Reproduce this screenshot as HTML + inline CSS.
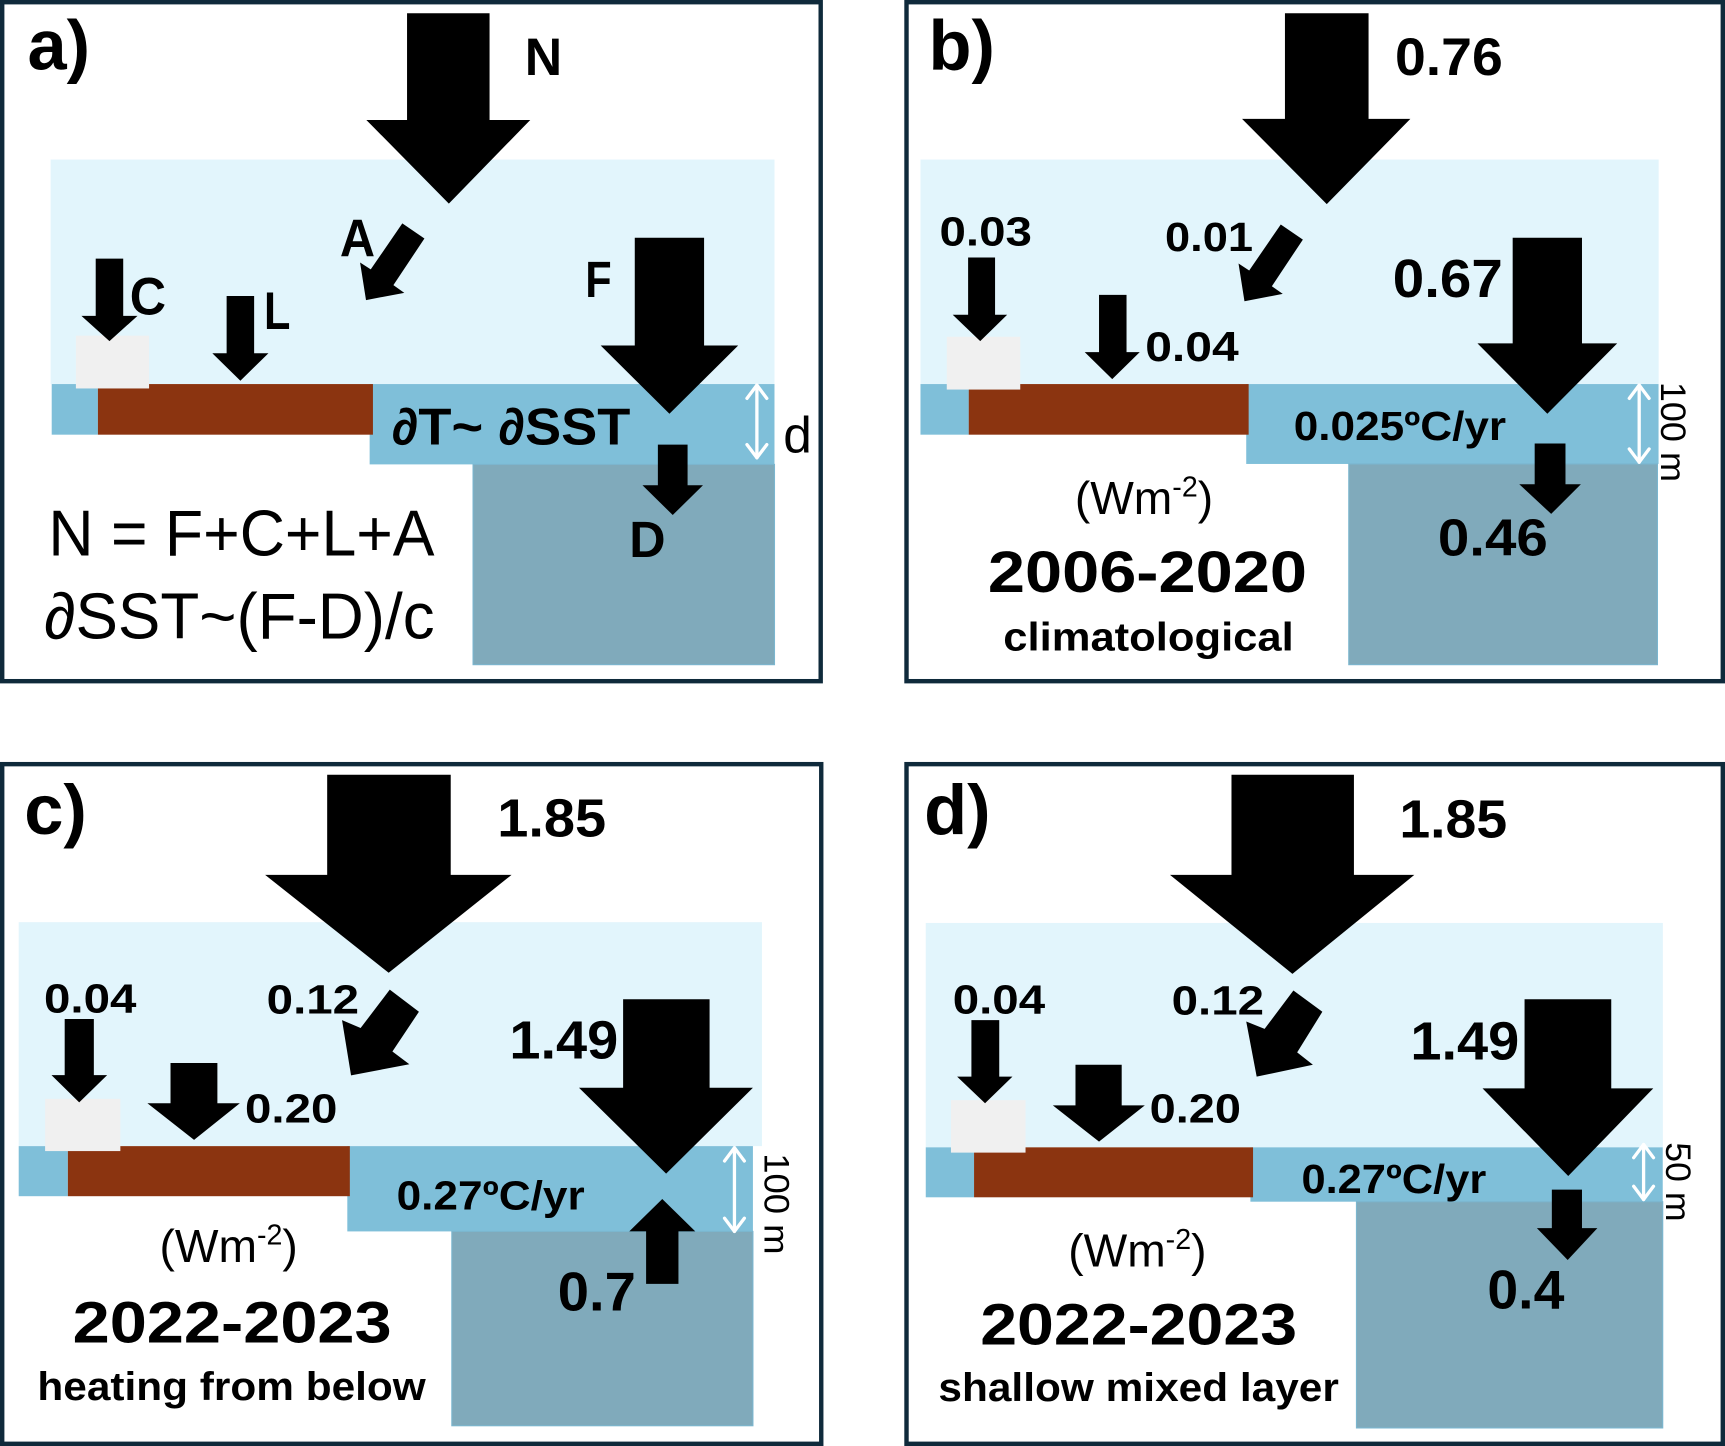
<!DOCTYPE html>
<html>
<head>
<meta charset="utf-8">
<style>
html,body{margin:0;padding:0;background:#fff;}
svg{display:block;}
text{font-family:"Liberation Sans",Arial,sans-serif;fill:#000;}
.b{font-weight:700;}
</style>
</head>
<body>
<svg width="1725" height="1446" viewBox="0 0 1568 1314" preserveAspectRatio="none" xmlns="http://www.w3.org/2000/svg">
<rect x="0" y="0" width="1568" height="1314" fill="#ffffff"/>

<!-- ================= PANEL A ================= -->
<rect x="46" y="145" width="658" height="204" fill="#e2f5fc"/>
<rect x="47" y="349" width="42" height="46" fill="#7fbfd9"/>
<rect x="336" y="349" width="368" height="73" fill="#7fbfd9"/>
<rect x="89" y="349" width="250" height="46" fill="#8b3410"/>
<rect x="69" y="305" width="66.5" height="48" fill="#f0f0f0"/>
<rect x="430" y="422" width="274" height="182" fill="#80aabb" stroke="#7bb6cf" stroke-width="1"/>
<polygon points="370,12 445,12 445,109 482,109 408,185 333,109 370,109" fill="#000"/>
<polygon points="87,235 112,235 112,287 125,287 99.5,310 74,287 87,287" fill="#000"/>
<polygon points="206,269 231,269 231,321 244,321 218.5,346 193,321 206,321" fill="#000"/>
<polygon points="577,216 640,216 640,314 671,314 608.5,376 546,314 577,314" fill="#000"/>
<polygon points="598,404 625,404 625,441 639,441 611.5,468 584,441 598,441" fill="#000"/>
<polygon points="365.7,203 385.8,216.7 357.6,259.1 367.5,266.1 332.7,272.7 327.3,238.5 337,244.8" fill="#000"/>
<g stroke="#fff" stroke-width="3" fill="none" stroke-linecap="round" stroke-linejoin="round">
<line x1="688" y1="350" x2="688" y2="416"/>
<polyline points="679,362 688,350 697,362"/>
<polyline points="679,404 688,416 697,404"/>
</g>
<text class="b" x="25" y="63" font-size="64">a)</text>
<text class="b" x="477" y="68" font-size="48" textLength="34" lengthAdjust="spacingAndGlyphs">N</text>
<text class="b" x="309" y="233" font-size="48" textLength="32" lengthAdjust="spacingAndGlyphs">A</text>
<text class="b" x="118" y="286" font-size="48" textLength="33" lengthAdjust="spacingAndGlyphs">C</text>
<text class="b" x="240" y="299" font-size="48" textLength="24" lengthAdjust="spacingAndGlyphs">L</text>
<text class="b" x="532" y="270" font-size="46" textLength="24" lengthAdjust="spacingAndGlyphs">F</text>
<text class="b" x="572" y="506" font-size="46" textLength="33" lengthAdjust="spacingAndGlyphs">D</text>
<text class="b" x="356" y="404" font-size="47" textLength="217" lengthAdjust="spacingAndGlyphs">∂T~ ∂SST</text>
<text x="712" y="411" font-size="46" textLength="26" lengthAdjust="spacingAndGlyphs">d</text>
<text x="44" y="505" font-size="59" textLength="351" lengthAdjust="spacingAndGlyphs">N = F+C+L+A</text>
<text x="40" y="580" font-size="59" textLength="355" lengthAdjust="spacingAndGlyphs">∂SST~(F-D)/c</text>

<!-- ================= PANEL B ================= -->
<rect x="836.7" y="145" width="671" height="204" fill="#e2f5fc"/>
<rect x="836.7" y="349" width="44" height="46" fill="#7fbfd9"/>
<rect x="1132.8" y="349" width="374.8" height="72.6" fill="#7fbfd9"/>
<rect x="880.6" y="349" width="254.4" height="46" fill="#8b3410"/>
<rect x="860.6" y="306" width="66.8" height="48" fill="#f0f0f0"/>
<rect x="1226" y="421.6" width="280.6" height="182.4" fill="#80aabb" stroke="#7bb6cf" stroke-width="1"/>
<polygon points="1168,12 1244,12 1244,108 1282,108 1206,185.5 1129,108 1168,108" fill="#000"/>
<polygon points="880,234 904.5,234 904.5,286 915.5,286 891,310 866,286 880,286" fill="#000"/>
<polygon points="999,268 1024,268 1024,320 1036,320 1011,344.5 986,320 999,320" fill="#000"/>
<polygon points="1375,216 1438,216 1438,312 1470,312 1406.5,376 1343,312 1375,312" fill="#000"/>
<polygon points="1395,403 1423,403 1423,440 1437,440 1410,467 1381,440 1395,440" fill="#000"/>
<polygon points="1164.2,204 1184.3,217.7 1156.1,260.1 1166,267.1 1131.2,273.7 1125.8,239.5 1135.5,245.8" fill="#000"/>
<g stroke="#fff" stroke-width="3" fill="none" stroke-linecap="round" stroke-linejoin="round">
<line x1="1490" y1="350" x2="1490" y2="420"/>
<polyline points="1481,362 1490,350 1499,362"/>
<polyline points="1481,408 1490,420 1499,408"/>
</g>
<text class="b" x="844" y="63" font-size="64">b)</text>
<text class="b" x="1268" y="68" font-size="48" textLength="98" lengthAdjust="spacingAndGlyphs">0.76</text>
<text class="b" x="854" y="223" font-size="37" textLength="84" lengthAdjust="spacingAndGlyphs">0.03</text>
<text class="b" x="1059" y="228" font-size="37" textLength="80" lengthAdjust="spacingAndGlyphs">0.01</text>
<text class="b" x="1041" y="328" font-size="38" textLength="85" lengthAdjust="spacingAndGlyphs">0.04</text>
<text class="b" x="1266" y="270" font-size="49" textLength="100" lengthAdjust="spacingAndGlyphs">0.67</text>
<text class="b" x="1176" y="400" font-size="37" textLength="193" lengthAdjust="spacingAndGlyphs">0.025ºC/yr</text>
<text class="b" x="1307" y="505" font-size="47" textLength="100" lengthAdjust="spacingAndGlyphs">0.46</text>
<text transform="translate(1510,347) rotate(90)" font-size="32" textLength="91" lengthAdjust="spacingAndGlyphs">100 m</text>
<text x="977" y="467" font-size="42">(Wm<tspan font-size="26" dy="-16">-2</tspan><tspan dy="16">)</tspan></text>
<text class="b" x="898" y="538" font-size="53" textLength="290" lengthAdjust="spacingAndGlyphs">2006-2020</text>
<text class="b" x="912" y="591" font-size="36" textLength="264" lengthAdjust="spacingAndGlyphs">climatological</text>

<!-- ================= PANEL C ================= -->
<rect x="17" y="838" width="675.6" height="203.5" fill="#e2f5fc"/>
<rect x="17" y="1041.5" width="44.7" height="45.5" fill="#7fbfd9"/>
<rect x="315.7" y="1041.5" width="368.7" height="77.5" fill="#7fbfd9"/>
<rect x="61.7" y="1041.5" width="256.3" height="45.5" fill="#8b3410"/>
<rect x="41" y="998.5" width="68.4" height="47.5" fill="#f0f0f0"/>
<rect x="410.7" y="1119" width="273.7" height="176.6" fill="#80aabb" stroke="#7bb6cf" stroke-width="1"/>
<polygon points="297.4,704 409.7,704 409.7,795 465,795 353.3,884 241,795 297.4,795" fill="#000"/>
<polygon points="58.8,926 85.3,926 85.3,977 97.4,977 72,1001.7 46.8,977 58.8,977" fill="#000"/>
<polygon points="155,966 197.6,966 197.6,1002.5 218,1002.5 176.4,1035.8 134,1002.5 155,1002.5" fill="#000"/>
<polygon points="566.4,908 645,908 645,988.4 684.4,988.4 605.5,1066.5 526.3,988.4 566.4,988.4" fill="#000"/>
<polygon points="587.3,1166.7 616.7,1166.7 616.7,1119 632,1119 602,1089.5 572,1119 587.3,1119" fill="#000"/>
<polygon points="354.3,899.3 380.8,919.4 356.7,955.5 372.1,967.1 319.1,977.2 310.9,927 327.8,934.2" fill="#000"/>
<g stroke="#fff" stroke-width="3" fill="none" stroke-linecap="round" stroke-linejoin="round">
<line x1="667.6" y1="1043" x2="667.6" y2="1119"/>
<polyline points="658.6,1055 667.6,1043 676.6,1055"/>
<polyline points="658.6,1107 667.6,1119 676.6,1107"/>
</g>
<text class="b" x="22" y="758" font-size="64">c)</text>
<text class="b" x="452" y="760" font-size="49" textLength="99" lengthAdjust="spacingAndGlyphs">1.85</text>
<text class="b" x="40" y="920" font-size="37" textLength="84" lengthAdjust="spacingAndGlyphs">0.04</text>
<text class="b" x="242.4" y="921" font-size="37" textLength="84" lengthAdjust="spacingAndGlyphs">0.12</text>
<text class="b" x="222.7" y="1020" font-size="37" textLength="84" lengthAdjust="spacingAndGlyphs">0.20</text>
<text class="b" x="463" y="962" font-size="49" textLength="99" lengthAdjust="spacingAndGlyphs">1.49</text>
<text class="b" x="360.5" y="1099" font-size="37" textLength="171" lengthAdjust="spacingAndGlyphs">0.27ºC/yr</text>
<text class="b" x="507" y="1191" font-size="50" textLength="71" lengthAdjust="spacingAndGlyphs">0.7</text>
<text transform="translate(695,1048) rotate(90)" font-size="32" textLength="92" lengthAdjust="spacingAndGlyphs">100 m</text>
<text x="145" y="1147" font-size="42">(Wm<tspan font-size="26" dy="-16">-2</tspan><tspan dy="16">)</tspan></text>
<text class="b" x="66" y="1220" font-size="53" textLength="290" lengthAdjust="spacingAndGlyphs">2022-2023</text>
<text class="b" x="34" y="1272" font-size="36" textLength="353" lengthAdjust="spacingAndGlyphs">heating from below</text>

<!-- ================= PANEL D ================= -->
<rect x="841.5" y="838.7" width="670" height="203.9" fill="#e2f5fc"/>
<rect x="841.5" y="1042.6" width="44" height="45.4" fill="#7fbfd9"/>
<rect x="1136.6" y="1042.6" width="374.8" height="49.4" fill="#7fbfd9"/>
<rect x="885.4" y="1042.6" width="253.6" height="45.4" fill="#8b3410"/>
<rect x="864.4" y="999.7" width="67.8" height="47.7" fill="#f0f0f0"/>
<rect x="1233" y="1092" width="278.4" height="205.6" fill="#80aabb" stroke="#7bb6cf" stroke-width="1"/>
<polygon points="1119.4,704 1230.7,704 1230.7,795 1285.6,795 1174.8,885 1063.5,795 1119.4,795" fill="#000"/>
<polygon points="883,927 908.3,927 908.3,978.4 920.3,978.4 895.4,1002.5 870,978.4 883,978.4" fill="#000"/>
<polygon points="977.6,967.5 1019.6,967.5 1019.6,1004.5 1040.6,1004.5 999,1037.4 957,1004.5 977.6,1004.5" fill="#000"/>
<polygon points="1385.8,908 1464.6,908 1464.6,989 1502.8,989 1425.5,1068.7 1347.6,989 1385.8,989" fill="#000"/>
<polygon points="1410.6,1081 1438,1081 1438,1116 1452,1116 1425,1145 1397,1116 1410.6,1116" fill="#000"/>
<polygon points="1175.7,900.1 1202,919.4 1179.1,956.3 1193.4,967.5 1142.3,978.4 1132.8,928.2 1149.5,935" fill="#000"/>
<g stroke="#fff" stroke-width="3" fill="none" stroke-linecap="round" stroke-linejoin="round">
<line x1="1494" y1="1040" x2="1494" y2="1090"/>
<polyline points="1485,1052 1494,1040 1503,1052"/>
<polyline points="1485,1078 1494,1090 1503,1078"/>
</g>
<text class="b" x="840" y="758" font-size="64">d)</text>
<text class="b" x="1272" y="761" font-size="49" textLength="98" lengthAdjust="spacingAndGlyphs">1.85</text>
<text class="b" x="866" y="921" font-size="37" textLength="84" lengthAdjust="spacingAndGlyphs">0.04</text>
<text class="b" x="1065" y="922" font-size="37" textLength="84" lengthAdjust="spacingAndGlyphs">0.12</text>
<text class="b" x="1045" y="1020" font-size="37" textLength="83" lengthAdjust="spacingAndGlyphs">0.20</text>
<text class="b" x="1282" y="963" font-size="49" textLength="99" lengthAdjust="spacingAndGlyphs">1.49</text>
<text class="b" x="1183" y="1084" font-size="37" textLength="168" lengthAdjust="spacingAndGlyphs">0.27ºC/yr</text>
<text class="b" x="1352" y="1189" font-size="50" textLength="70" lengthAdjust="spacingAndGlyphs">0.4</text>
<text transform="translate(1514.5,1038) rotate(90)" font-size="32" textLength="72" lengthAdjust="spacingAndGlyphs">50 m</text>
<text x="971" y="1151" font-size="42">(Wm<tspan font-size="26" dy="-16">-2</tspan><tspan dy="16">)</tspan></text>
<text class="b" x="891" y="1222" font-size="53" textLength="288" lengthAdjust="spacingAndGlyphs">2022-2023</text>
<text class="b" x="853" y="1273" font-size="36" textLength="364" lengthAdjust="spacingAndGlyphs">shallow mixed layer</text>

<!-- ================= PANEL BORDERS ================= -->
<g fill="none" stroke="#0f2a3b" stroke-width="4">
<rect x="2" y="2" width="744" height="617"/>
<rect x="824" y="2" width="742" height="617"/>
<rect x="2" y="694.4" width="744.5" height="617.6"/>
<rect x="824" y="694.4" width="742" height="617.6"/>
</g>
</svg>
</body>
</html>
